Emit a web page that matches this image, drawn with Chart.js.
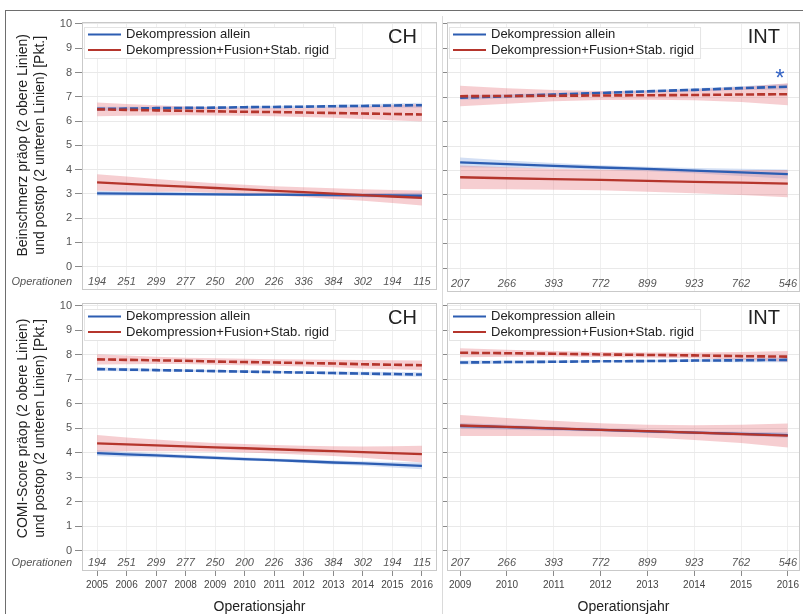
<!DOCTYPE html>
<html><head><meta charset="utf-8">
<script src="https://cdn.jsdelivr.net/npm/chart.js@4/dist/chart.umd.min.js"></script>
<style>
body{margin:0;background:#fff}
#wrap{position:relative;width:803px;height:614px;overflow:hidden;background:#fff}
canvas{position:absolute}
.ln{position:absolute;}
</style></head><body>
<div id="wrap">
<canvas id="c1" width="443" height="300" style="left:0;top:0"></canvas>
<canvas id="c2" width="360" height="300" style="left:443px;top:0"></canvas>
<canvas id="c3" width="443" height="326" style="left:0;top:288px"></canvas>
<canvas id="c4" width="360" height="326" style="left:443px;top:288px"></canvas>
<div class="ln" style="left:5px;top:10px;width:798px;height:0;border-top:1px solid #6e6e6e"></div>
<div class="ln" style="left:5px;top:10px;width:0;height:604px;border-left:1px solid #6e6e6e"></div>
<div class="ln" style="left:442px;top:16px;width:0;height:598px;border-left:1px solid #dadada"></div>
</div>
<script>
// ---------- data ----------
const seriesNames = ['Dekompression allein', 'Dekompression+Fusion+Stab. rigid'];
const yearsCH = [2005,2006,2007,2008,2009,2010,2011,2012,2013,2014,2015,2016];
const yearsINT = [2009,2010,2011,2012,2013,2014,2015,2016];
const opsCH = [194,251,299,277,250,200,226,336,384,302,194,115];
const opsINT = [207,266,393,772,899,923,762,546];
const yTicks = [0,1,2,3,4,5,6,7,8,9,10];
const opsLabel = 'Operationen';
const xTitle = 'Operationsjahr';
const yTitleBein = ['Beinschmerz präop (2 obere Linien)', 'und postop (2 unteren Linien) [Pkt.]'];
const yTitleComi = ['COMI-Score präop (2 obere Linien)', 'und postop (2 unteren Linien) [Pkt.]'];
const regionCH = 'CH', regionINT = 'INT';
const sigMarker = '*';

// Beinschmerz, CH
const beinCH_alleinPre   = [6.50,6.51,6.53,6.54,6.55,6.57,6.58,6.59,6.61,6.62,6.64,6.65];
const beinCH_alleinPreHi = [6.59,6.59,6.59,6.60,6.60,6.62,6.63,6.64,6.67,6.69,6.72,6.75];
const beinCH_alleinPreLo = [6.41,6.43,6.47,6.48,6.50,6.52,6.53,6.54,6.55,6.55,6.56,6.55];
const beinCH_fusionPre   = [6.48,6.46,6.44,6.42,6.40,6.38,6.37,6.35,6.33,6.31,6.29,6.27];
const beinCH_fusionPreHi = [6.76,6.70,6.65,6.60,6.57,6.55,6.54,6.55,6.57,6.60,6.65,6.70];
const beinCH_fusionPreLo = [6.20,6.22,6.23,6.24,6.23,6.22,6.20,6.17,6.13,6.08,6.03,5.98];
const beinCH_alleinPost   = [3.02,3.01,3.00,2.99,2.98,2.97,2.97,2.96,2.95,2.94,2.93,2.92];
const beinCH_alleinPostHi = [3.12,3.10,3.08,3.06,3.04,3.03,3.02,3.02,3.02,3.02,3.03,3.04];
const beinCH_alleinPostLo = [2.92,2.92,2.92,2.92,2.92,2.91,2.92,2.90,2.88,2.86,2.83,2.80];
const beinCH_fusionPost   = [3.47,3.41,3.35,3.30,3.24,3.18,3.12,3.07,3.01,2.95,2.89,2.83];
const beinCH_fusionPostHi = [3.81,3.71,3.61,3.52,3.44,3.37,3.31,3.27,3.23,3.19,3.16,3.14];
const beinCH_fusionPostLo = [3.13,3.11,3.09,3.08,3.04,2.99,2.93,2.87,2.79,2.71,2.62,2.52];

// Beinschmerz, INT
const beinINT_alleinPre   = [6.98,7.04,7.11,7.17,7.24,7.30,7.37,7.43];
const beinINT_alleinPreHi = [7.08,7.12,7.17,7.22,7.29,7.37,7.45,7.55];
const beinINT_alleinPreLo = [6.88,6.96,7.05,7.12,7.19,7.23,7.29,7.31];
const beinINT_fusionPre   = [7.04,7.05,7.06,7.07,7.08,7.09,7.11,7.12];
const beinINT_fusionPreHi = [7.47,7.37,7.29,7.25,7.26,7.31,7.42,7.57];
const beinINT_fusionPreLo = [6.63,6.73,6.83,6.89,6.90,6.87,6.80,6.67];
const beinINT_alleinPost   = [4.33,4.26,4.19,4.12,4.06,3.99,3.92,3.85];
const beinINT_alleinPostHi = [4.53,4.41,4.30,4.21,4.15,4.10,4.07,4.04];
const beinINT_alleinPostLo = [4.13,4.11,4.08,4.03,3.97,3.88,3.77,3.66];
const beinINT_fusionPost   = [3.72,3.68,3.64,3.61,3.57,3.53,3.50,3.46];
const beinINT_fusionPostHi = [4.20,4.13,4.07,4.03,4.01,4.00,4.01,4.02];
const beinINT_fusionPostLo = [3.24,3.23,3.21,3.19,3.13,3.06,2.99,2.90];

// COMI, CH
const comiCH_alleinPre   = [7.42,7.40,7.38,7.36,7.34,7.32,7.30,7.28,7.26,7.24,7.22,7.20];
const comiCH_alleinPreHi = [7.50,7.47,7.44,7.41,7.39,7.37,7.35,7.33,7.32,7.31,7.30,7.29];
const comiCH_alleinPreLo = [7.34,7.33,7.32,7.31,7.29,7.27,7.25,7.23,7.20,7.17,7.14,7.11];
const comiCH_fusionPre   = [7.82,7.80,7.78,7.76,7.73,7.71,7.69,7.67,7.65,7.62,7.60,7.58];
const comiCH_fusionPreHi = [8.03,7.98,7.93,7.89,7.86,7.84,7.82,7.81,7.80,7.79,7.78,7.77];
const comiCH_fusionPreLo = [7.61,7.62,7.63,7.63,7.60,7.58,7.56,7.53,7.50,7.45,7.42,7.39];
const comiCH_alleinPost   = [3.99,3.94,3.90,3.85,3.80,3.75,3.71,3.66,3.61,3.57,3.52,3.47];
const comiCH_alleinPostHi = [4.11,4.05,3.99,3.93,3.87,3.82,3.77,3.73,3.69,3.66,3.63,3.61];
const comiCH_alleinPostLo = [3.87,3.83,3.81,3.77,3.73,3.68,3.65,3.59,3.53,3.48,3.41,3.33];
const comiCH_fusionPost   = [4.39,4.35,4.31,4.27,4.23,4.19,4.15,4.11,4.07,4.03,3.99,3.95];
const comiCH_fusionPostHi = [4.73,4.63,4.55,4.47,4.41,4.36,4.32,4.29,4.27,4.26,4.27,4.29];
const comiCH_fusionPostLo = [4.05,4.07,4.07,4.07,4.05,4.02,3.98,3.93,3.87,3.80,3.71,3.61];

// COMI, INT
const comiINT_alleinPre   = [7.69,7.71,7.72,7.74,7.75,7.77,7.78,7.80];
const comiINT_alleinPreHi = [7.77,7.77,7.77,7.78,7.80,7.83,7.86,7.90];
const comiINT_alleinPreLo = [7.61,7.65,7.67,7.70,7.70,7.71,7.70,7.70];
const comiINT_fusionPre   = [8.09,8.07,8.05,8.02,8.00,7.98,7.95,7.93];
const comiINT_fusionPreHi = [8.27,8.21,8.16,8.12,8.10,8.10,8.12,8.16];
const comiINT_fusionPreLo = [7.91,7.93,7.94,7.92,7.90,7.86,7.80,7.72];
const comiINT_alleinPost   = [5.10,5.05,4.99,4.94,4.88,4.83,4.78,4.73];
const comiINT_alleinPostHi = [5.22,5.15,5.07,5.01,4.95,4.90,4.86,4.84];
const comiINT_alleinPostLo = [4.98,4.95,4.91,4.87,4.81,4.76,4.70,4.62];
const comiINT_fusionPost   = [5.12,5.06,5.00,4.94,4.89,4.83,4.77,4.71];
const comiINT_fusionPostHi = [5.55,5.43,5.31,5.21,5.15,5.13,5.15,5.20];
const comiINT_fusionPostLo = [4.69,4.69,4.69,4.67,4.63,4.53,4.41,4.22];

// ---------- styling ----------
Chart.defaults.font.family = "'Liberation Sans', Arial, Helvetica, sans-serif";
const BLUE = '#2c5db2', RED = '#b5352c';
const BLUE_BAND = 'rgba(110,150,220,0.30)', RED_BAND = 'rgba(228,105,115,0.33)';
const FONT = "'Liberation Sans', Arial, Helvetica, sans-serif";

const decorPlugin = {
  id: 'decor',
  afterDatasetsDraw(chart, args, o) {
    const {ctx, chartArea: a, scales: {x, y}} = chart;
    ctx.save();
    // plot frame
    ctx.strokeStyle = '#c9c9c9'; ctx.lineWidth = 1;
    ctx.strokeRect(Math.round(a.left) + 0.5, Math.round(a.top) + 0.5, Math.round(a.right - a.left) - 1, Math.round(a.bottom - a.top) - 1);
    // legend
    ctx.font = '13px ' + FONT;
    const w = Math.max(ctx.measureText(seriesNames[0]).width, ctx.measureText(seriesNames[1]).width);
    const lx = a.left + 2, ly = a.top + o.legendDy;
    ctx.fillStyle = '#fff'; ctx.fillRect(lx, ly, w + 48, 31);
    ctx.strokeStyle = '#e4e4e4'; ctx.strokeRect(lx + 0.5, ly + 0.5, w + 48, 31);
    const rows = [[seriesNames[0], BLUE], [seriesNames[1], RED]];
    rows.forEach((r, i) => {
      const cy = ly + 7.5 + i * 15.5;
      ctx.strokeStyle = r[1]; ctx.lineWidth = 2;
      ctx.beginPath(); ctx.moveTo(a.left + 6, cy); ctx.lineTo(a.left + 39, cy); ctx.stroke();
      ctx.fillStyle = '#222'; ctx.textAlign = 'left'; ctx.textBaseline = 'middle';
      ctx.fillText(r[0], a.left + 44, cy);
    });
    // region label
    ctx.font = '20px ' + FONT; ctx.fillStyle = '#222'; ctx.textAlign = 'right'; ctx.textBaseline = 'middle';
    ctx.fillText(o.region, a.right - 20, a.top + 15.5);
    // significance marker
    if (o.sig) {
      ctx.font = '24px ' + FONT; ctx.fillStyle = '#3463c4'; ctx.textAlign = 'center'; ctx.textBaseline = 'alphabetic';
      ctx.fillText(o.sig.text, x.getPixelForValue(o.sig.x) - 8, y.getPixelForValue(o.sig.y) - 1);
    }
    // operations row
    ctx.font = 'italic 11px ' + FONT; ctx.fillStyle = '#555'; ctx.textBaseline = 'middle'; ctx.textAlign = 'center';
    o.ops.forEach((n, i) => ctx.fillText(String(n), x.getPixelForValue(o.years[i]), a.bottom - 8.5));
    if (o.showOpsLabel) {
      ctx.textAlign = 'right';
      ctx.fillText(opsLabel, a.left - 10, a.bottom - 8.5);
    }
    // y title
    if (o.yTitle) {
      ctx.font = '14px ' + FONT; ctx.fillStyle = '#222'; ctx.textAlign = 'center'; ctx.textBaseline = 'middle';
      const cy = (y.getPixelForValue(0) + y.getPixelForValue(10)) / 2;
      o.yTitle.forEach((t, i) => {
        ctx.save(); ctx.translate(23 + i * 17, cy); ctx.rotate(-Math.PI / 2);
        ctx.fillText(t, 0, 0); ctx.restore();
      });
    }
    ctx.restore();
  }
};

function makePanel(id, o) {
  const pts = arr => arr.map((v, i) => ({x: o.years[i], y: v}));
  const line = (label, arr, color, dashed) => ({
    label, data: pts(arr), borderColor: color, borderWidth: dashed ? 2.6 : 2.3,
    borderDash: dashed ? [8, 3] : [], pointRadius: 0, fill: false, tension: 0
  });
  const ds = [
    line(seriesNames[1], o.s.fusionPost, RED, false),
    line(seriesNames[0], o.s.alleinPost, BLUE, false),
    line(seriesNames[1], o.s.fusionPre, RED, true),
    line(seriesNames[0], o.s.alleinPre, BLUE, true)
  ];
  const band = (hi, lo, col) => {
    ds.push({label: 'ci', data: pts(hi), borderWidth: 0, borderColor: 'rgba(0,0,0,0)', pointRadius: 0, fill: false});
    ds.push({label: 'ci', data: pts(lo), borderWidth: 0, borderColor: 'rgba(0,0,0,0)', pointRadius: 0, fill: '-1', backgroundColor: col});
  };
  band(o.s.fusionPostHi, o.s.fusionPostLo, RED_BAND);
  band(o.s.fusionPreHi, o.s.fusionPreLo, RED_BAND);
  band(o.s.alleinPostHi, o.s.alleinPostLo, BLUE_BAND);
  band(o.s.alleinPreHi, o.s.alleinPreLo, BLUE_BAND);

  new Chart(document.getElementById(id), {
    type: 'line',
    data: {datasets: ds},
    plugins: [decorPlugin],
    options: {
      responsive: false, animation: false, devicePixelRatio: 1,
      layout: {padding: o.pad},
      plugins: {
        legend: {display: false}, tooltip: {enabled: false},
        decor: {region: o.region, ops: o.ops, years: o.years, showOpsLabel: o.showY, yTitle: o.yTitle, sig: o.sig, legendDy: o.legendDy}
      },
      scales: {
        x: {
          type: 'linear', min: o.xMin, max: o.xMax,
          afterBuildTicks: s => { s.ticks = o.years.map(v => ({value: v})); },
          afterFit: s => { s.height = o.xHeight; },
          grid: {color: '#efefef', drawTicks: o.showX, tickLength: 5, tickColor: '#8a8a8a'},
          border: {display: false},
          ticks: {display: o.showX, padding: 3, font: {size: 10}, color: '#444', autoSkip: false, maxRotation: 0, callback: v => String(v)},
          title: {display: o.showX, text: xTitle, font: {size: 14, lineHeight: 1}, color: '#222', padding: {top: 0, bottom: 0}}
        },
        y: {
          type: 'linear', min: o.yMin, max: o.yMax,
          afterBuildTicks: s => { s.ticks = yTicks.map(v => ({value: v})); },
          afterFit: s => { s.width = o.yWidth; },
          grid: {color: '#e9e9e9', tickLength: o.showY ? 7 : 4, tickColor: '#8a8a8a'},
          border: {display: false},
          ticks: {display: o.showY, padding: 3, font: {size: 11}, color: '#555', autoSkip: false}
        }
      }
    }
  });
}

makePanel('c1', {
  years: yearsCH, ops: opsCH, region: regionCH, yTitle: yTitleBein, showY: true, showX: false,
  xMin: 2004.49, xMax: 2016.51, yMin: -0.98, yMax: 10.08, yWidth: 82, xHeight: 8, legendDy: 5,
  pad: {left: 0, top: 22, right: 6, bottom: 0},
  s: {alleinPre: beinCH_alleinPre, alleinPreHi: beinCH_alleinPreHi, alleinPreLo: beinCH_alleinPreLo,
      fusionPre: beinCH_fusionPre, fusionPreHi: beinCH_fusionPreHi, fusionPreLo: beinCH_fusionPreLo,
      alleinPost: beinCH_alleinPost, alleinPostHi: beinCH_alleinPostHi, alleinPostLo: beinCH_alleinPostLo,
      fusionPost: beinCH_fusionPost, fusionPostHi: beinCH_fusionPostHi, fusionPostLo: beinCH_fusionPostLo}
});
makePanel('c2', {
  years: yearsINT, ops: opsINT, region: regionINT, yTitle: null, showY: false, showX: false,
  xMin: 2008.72, xMax: 2016.26, yMin: -0.98, yMax: 10.08, yWidth: 4, xHeight: 8, legendDy: 5,
  pad: {left: 0, top: 22, right: 3, bottom: 0},
  sig: {text: sigMarker, x: 2016, y: beinINT_alleinPre[beinINT_alleinPre.length - 1]},
  s: {alleinPre: beinINT_alleinPre, alleinPreHi: beinINT_alleinPreHi, alleinPreLo: beinINT_alleinPreLo,
      fusionPre: beinINT_fusionPre, fusionPreHi: beinINT_fusionPreHi, fusionPreLo: beinINT_fusionPreLo,
      alleinPost: beinINT_alleinPost, alleinPostHi: beinINT_alleinPostHi, alleinPostLo: beinINT_alleinPostLo,
      fusionPost: beinINT_fusionPost, fusionPostHi: beinINT_fusionPostHi, fusionPostLo: beinINT_fusionPostLo}
});
makePanel('c3', {
  years: yearsCH, ops: opsCH, region: regionCH, yTitle: yTitleComi, showY: true, showX: true,
  xMin: 2004.49, xMax: 2016.51, yMin: -0.82, yMax: 10.12, yWidth: 82, xHeight: 43, legendDy: 6,
  pad: {left: 0, top: 15, right: 6, bottom: 0},
  s: {alleinPre: comiCH_alleinPre, alleinPreHi: comiCH_alleinPreHi, alleinPreLo: comiCH_alleinPreLo,
      fusionPre: comiCH_fusionPre, fusionPreHi: comiCH_fusionPreHi, fusionPreLo: comiCH_fusionPreLo,
      alleinPost: comiCH_alleinPost, alleinPostHi: comiCH_alleinPostHi, alleinPostLo: comiCH_alleinPostLo,
      fusionPost: comiCH_fusionPost, fusionPostHi: comiCH_fusionPostHi, fusionPostLo: comiCH_fusionPostLo}
});
makePanel('c4', {
  years: yearsINT, ops: opsINT, region: regionINT, yTitle: null, showY: false, showX: true,
  xMin: 2008.72, xMax: 2016.26, yMin: -0.82, yMax: 10.12, yWidth: 4, xHeight: 43, legendDy: 6,
  pad: {left: 0, top: 15, right: 3, bottom: 0},
  s: {alleinPre: comiINT_alleinPre, alleinPreHi: comiINT_alleinPreHi, alleinPreLo: comiINT_alleinPreLo,
      fusionPre: comiINT_fusionPre, fusionPreHi: comiINT_fusionPreHi, fusionPreLo: comiINT_fusionPreLo,
      alleinPost: comiINT_alleinPost, alleinPostHi: comiINT_alleinPostHi, alleinPostLo: comiINT_alleinPostLo,
      fusionPost: comiINT_fusionPost, fusionPostHi: comiINT_fusionPostHi, fusionPostLo: comiINT_fusionPostLo}
});
</script>
</body></html>
